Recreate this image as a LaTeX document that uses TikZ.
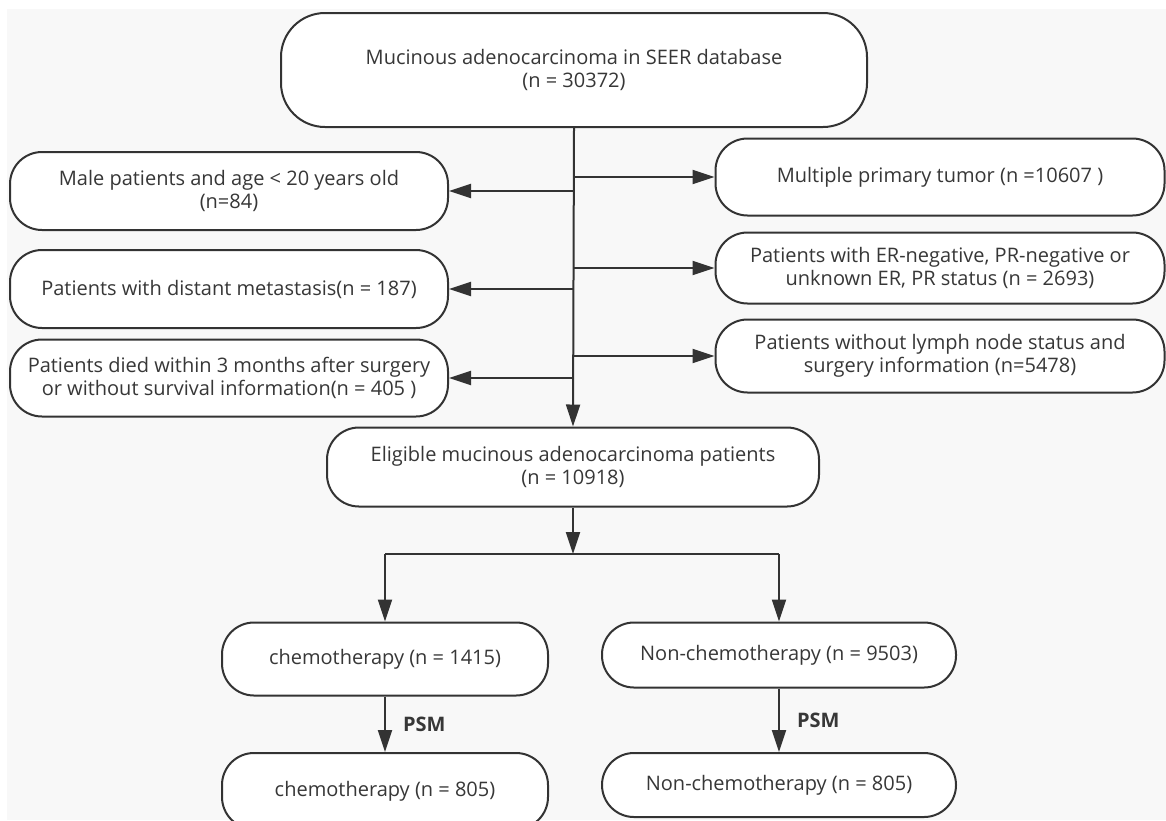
\documentclass[tikz,border=0pt]{standalone}
\usepackage{fontspec}
\setmainfont{Open Sans}
\usepackage{tikz}
\usepackage{xcolor}
\usetikzlibrary{arrows.meta, positioning}
\definecolor{linegray}{RGB}{51, 51, 51}
\definecolor{textgray}{RGB}{55, 55, 55}
\definecolor{bggray}{RGB}{248, 248, 248}

\begin{document}
\begin{tikzpicture}[
    x=1pt, y=-1pt,
    box/.style={rectangle, draw=linegray, fill=white, line width=2pt, rounded corners=32pt, align=center, inner sep=0pt, text=textgray, font=\fontsize{20}{23.5}\selectfont},
    bigbox/.style={box, rounded corners=44pt},
    arrow/.style={-{Triangle[length=22pt, width=14pt]}, line width=2pt, draw=linegray},
    line/.style={line width=2pt, draw=linegray},
    psm/.style={font=\fontsize{20}{22}\selectfont\bfseries, text=textgray, inner sep=2pt}
]

% Background
\useasboundingbox (0,0) rectangle (1166,820);
\clip (0,0) rectangle (1166,820);
\fill[white] (0,0) rectangle (1166,820);
\fill[bggray] (7,9) rectangle (1166,820);

% Source
\node[bigbox, minimum width=586pt, minimum height=114pt] (seer) at (574,70) {Mucinous adenocarcinoma in SEER database\\(n = 30372)};

% Excluded (left)
\node[box, minimum width=438pt, minimum height=78pt] (male) at (229,191) {Male patients and age < 20 years old\\(n=84)};
\node[box, minimum width=438pt, minimum height=78pt] (distant) at (229,289) {Patients with distant metastasis(n = 187)};
\node[box, minimum width=438pt, minimum height=77pt] (died) at (229,378) {Patients died within 3 months after surgery\\or without survival information(n = 405 )};

% Excluded (right)
\node[box, minimum width=449pt, minimum height=77pt] (multi) at (940,177) {Multiple primary tumor (n =10607 )};
\node[box, minimum width=449pt, minimum height=71pt] (erpr) at (940,268) {Patients with ER-negative, PR-negative or\\unknown ER, PR status (n = 2693)};
\node[box, minimum width=449pt, minimum height=73pt] (lymph) at (940,356) {Patients without lymph node status and\\surgery information (n=5478)};

% Eligible
\node[box, minimum width=492pt, minimum height=79pt] (elig) at (573,467) {Eligible mucinous adenocarcinoma patients\\(n = 10918)};

% Groups
\node[box, minimum width=326pt, minimum height=73pt] (chemo) at (385,659) {chemotherapy (n = 1415)};
\node[box, minimum width=354pt, minimum height=65pt] (nonchemo) at (779,655) {Non-chemotherapy (n = 9503)};
\node[box, minimum width=326pt, minimum height=76pt] (chemopsm) at (385,791) {chemotherapy (n = 805)};
\node[box, minimum width=354pt, minimum height=64pt] (nonchemopsm) at (779,785) {Non-chemotherapy (n = 805)};

% Main flow
\draw[arrow] (seer.south) -- (elig.north);
\foreach \b in {male, distant, died}
    \draw[arrow] (seer.south |- \b.east) -- (\b.east);
\foreach \b in {multi, erpr, lymph}
    \draw[arrow] (seer.south |- \b.west) -- (\b.west);

% Split
\coordinate (split) at (573,554);
\draw[arrow] (elig.south) -- (split);
\draw[line] (chemo.north |- split) -- (nonchemo.north |- split);
\draw[arrow] (chemo.north |- split) -- (chemo.north);
\draw[arrow] (nonchemo.north |- split) -- (nonchemo.north);

% PSM
\draw[arrow] (chemo.south) -- node[right=15pt, psm] {PSM} (chemopsm.north);
\draw[arrow] (nonchemo.south) -- node[right=15pt, psm] {PSM} (nonchemopsm.north);

\end{tikzpicture}
\end{document}
